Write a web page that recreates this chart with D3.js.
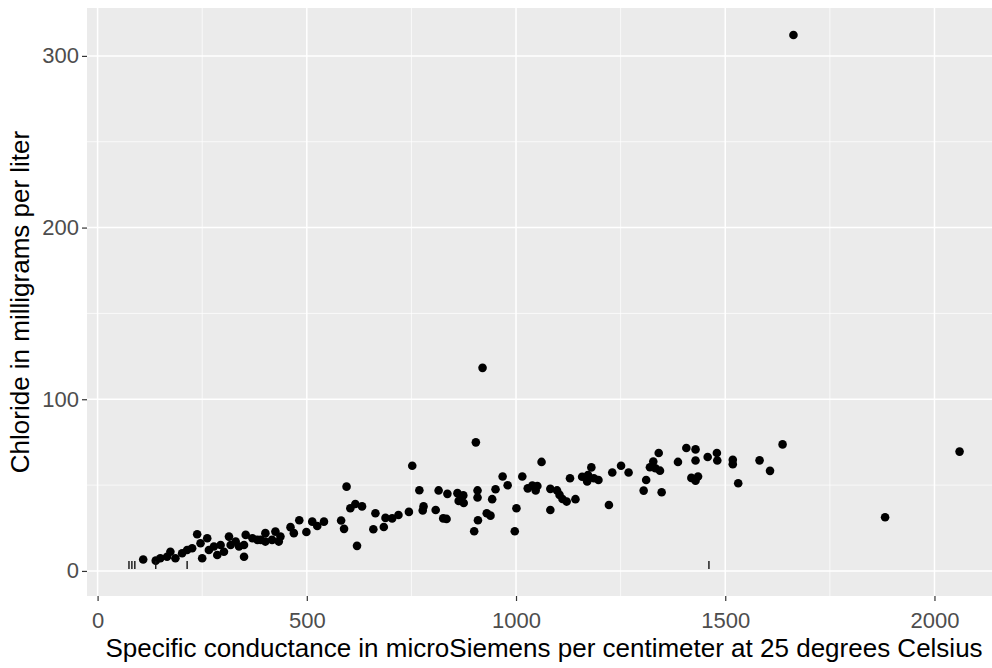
<!DOCTYPE html>
<html>
<head>
<meta charset="utf-8">
<script src="https://cdn.jsdelivr.net/npm/d3@7"></script>
<style>
  body { margin: 0; background: #fff; }
  text { font-family: "Liberation Sans", Arial, sans-serif; }
</style>
</head>
<body>
<div id="viz"></div>
<script>
// conductance (x) and chloride (y) for each sample
var conductance = [109, 139, 150, 166, 174, 186, 202, 214, 226, 238, 246, 250, 262, 266, 278, 286, 294, 302, 314, 318,
    330, 338, 350, 354, 370, 382, 350, 390, 401, 401, 417, 425, 433, 437, 461, 469, 482, 499, 513, 525,
    541, 582, 589, 595, 604, 616, 632, 620, 664, 659, 684, 688, 704, 719, 744, 752, 769, 779, 777, 808,
    815, 826, 834, 836, 860, 863, 874, 875, 904, 920, 908, 908, 909, 900, 930, 939, 943, 951, 968, 980,
    997, 1001, 1015, 1028, 1039, 1051, 1047, 1061, 1082, 1082, 1098, 1104, 1111, 1121, 1129, 1142, 1158, 1170, 1172, 1180,
    1186, 1197, 1222, 1230, 1251, 1269, 1305, 1311, 1320, 1328, 1333, 1341, 1344, 1348, 1387, 1407, 1429, 1429, 1419, 1429,
    1435, 1458, 1480, 1481, 1518, 1518, 1531, 1582, 1607, 1637, 1663, 1882, 2060];
var chloride = [6.7, 6.0, 7.4, 8.3, 11.2, 7.4, 10.3, 12.2, 13.2, 21.4, 16.1, 7.4, 19.0, 12.2, 14.2, 9.3, 15.1, 11.2, 20.0, 15.1,
    17.1, 14.2, 8.3, 21.0, 19.0, 18.1, 15.1, 18.1, 22.0, 17.1, 18.1, 22.9, 17.1, 20.0, 25.5, 22.0, 29.5, 22.7, 28.7, 26.2,
    28.7, 29.4, 24.5, 49.1, 36.5, 39.0, 37.6, 14.6, 33.6, 24.3, 25.6, 30.9, 30.6, 32.6, 34.4, 61.3, 47.0, 37.6, 35.2, 35.5,
    46.9, 30.6, 30.3, 44.9, 45.3, 40.8, 44.0, 39.6, 74.9, 118.3, 46.9, 42.8, 29.5, 23.1, 33.6, 32.2, 41.8, 47.6, 55.0, 49.9,
    23.1, 36.5, 55.0, 48.1, 49.7, 49.5, 46.9, 63.5, 47.8, 35.5, 46.9, 44.3, 41.9, 40.4, 54.0, 41.8, 54.9, 52.1, 55.9, 60.3,
    54.0, 53.0, 38.4, 57.3, 61.3, 57.3, 46.8, 53.0, 60.4, 63.7, 59.8, 68.7, 58.4, 45.8, 63.5, 71.6, 70.8, 64.3, 54.2, 52.6,
    55.0, 66.4, 68.7, 64.3, 64.7, 62.2, 51.1, 64.4, 58.3, 73.7, 312.2, 31.3, 69.5];

// censored samples drawn as small bars
var censX = [75, 82, 89, 139, 214, 1461];
var censY = [3.5, 3.5, 3.5, 3.5, 3.5, 3.5];

var xTicks = [0, 500, 1000, 1500, 2000];
var xMinor = [250, 750, 1250, 1750];
var yTicks = [0, 100, 200, 300];
var yMinor = [50, 150, 250];

var xTitle = "Specific conductance in microSiemens per centimeter at 25 degrees Celsius";
var yTitle = "Chloride in milligrams per liter";

var W = 992, H = 668;
var panel = {left: 87, top: 8, bottom: 596};

var svg = d3.select("#viz").append("svg")
    .attr("width", W)
    .attr("height", H);

// scales (ggplot style 5% expansion)
var xScale = d3.scaleLinear()
    .domain([-25.3, 2159])
    .range([panel.left, 1001]);
var yScale = d3.scaleLinear()
    .domain([-14.6, 327.9])
    .range([panel.bottom, panel.top]);

// grey panel
svg.append("rect")
    .attr("x", panel.left)
    .attr("y", panel.top)
    .attr("width", xScale.range()[1] - panel.left)
    .attr("height", panel.bottom - panel.top)
    .attr("fill", "#EBEBEB");

// grid lines
var grid = svg.append("g");
grid.selectAll(".xminor").data(xMinor).enter().append("line")
    .attr("x1", function(d) { return xScale(d); })
    .attr("x2", function(d) { return xScale(d); })
    .attr("y1", panel.top).attr("y2", panel.bottom)
    .attr("stroke", "#fff").attr("stroke-width", 0.7);
grid.selectAll(".yminor").data(yMinor).enter().append("line")
    .attr("y1", function(d) { return yScale(d); })
    .attr("y2", function(d) { return yScale(d); })
    .attr("x1", panel.left).attr("x2", W)
    .attr("stroke", "#fff").attr("stroke-width", 0.7);
grid.selectAll(".xmajor").data(xTicks).enter().append("line")
    .attr("x1", function(d) { return xScale(d); })
    .attr("x2", function(d) { return xScale(d); })
    .attr("y1", panel.top).attr("y2", panel.bottom)
    .attr("stroke", "#fff").attr("stroke-width", 1.5);
grid.selectAll(".ymajor").data(yTicks).enter().append("line")
    .attr("y1", function(d) { return yScale(d); })
    .attr("y2", function(d) { return yScale(d); })
    .attr("x1", panel.left).attr("x2", W)
    .attr("stroke", "#fff").attr("stroke-width", 1.5);

// axes
var xAxis = d3.axisBottom(xScale).tickValues(xTicks).tickFormat(d3.format("d"))
    .tickSize(5).tickPadding(11);
var yAxis = d3.axisLeft(yScale).tickValues(yTicks).tickFormat(d3.format("d"))
    .tickSize(5).tickPadding(3);

var gx = svg.append("g")
    .attr("transform", "translate(0," + panel.bottom + ")")
    .call(xAxis);
var gy = svg.append("g")
    .attr("transform", "translate(" + panel.left + ",0)")
    .call(yAxis);

[gx, gy].forEach(function(g) {
    g.select(".domain").remove();
    g.selectAll(".tick line").attr("stroke", "#333").attr("stroke-width", 1.2);
    g.selectAll(".tick text")
        .attr("fill", "#4D4D4D")
        .style("font-size", "22px");
});

// points
var pts = conductance.map(function(d, i) { return {x: d, y: chloride[i]}; });
svg.append("g").selectAll("circle")
    .data(pts)
    .enter()
    .append("circle")
    .attr("cx", function(d) { return xScale(d.x); })
    .attr("cy", function(d) { return yScale(d.y); })
    .attr("r", 4.3)
    .attr("fill", "#000");

// censored bars
var cens = censX.map(function(d, i) { return {x: d, y: censY[i]}; });
svg.append("g").selectAll("line")
    .data(cens)
    .enter()
    .append("line")
    .attr("x1", function(d) { return xScale(d.x); })
    .attr("x2", function(d) { return xScale(d.x); })
    .attr("y1", function(d) { return yScale(d.y) - 4; })
    .attr("y2", function(d) { return yScale(d.y) + 4; })
    .attr("stroke", "#111")
    .attr("stroke-width", 1.4);

// titles
svg.append("text")
    .attr("x", (panel.left + xScale.range()[1]) / 2)
    .attr("y", 657)
    .attr("text-anchor", "middle")
    .style("font-size", "26px")
    .attr("fill", "#000")
    .text(xTitle);

svg.append("text")
    .attr("transform", "translate(29," + (panel.top + panel.bottom) / 2 + ") rotate(-90)")
    .attr("text-anchor", "middle")
    .style("font-size", "26px")
    .attr("fill", "#000")
    .text(yTitle);
</script>
</body>
</html>
